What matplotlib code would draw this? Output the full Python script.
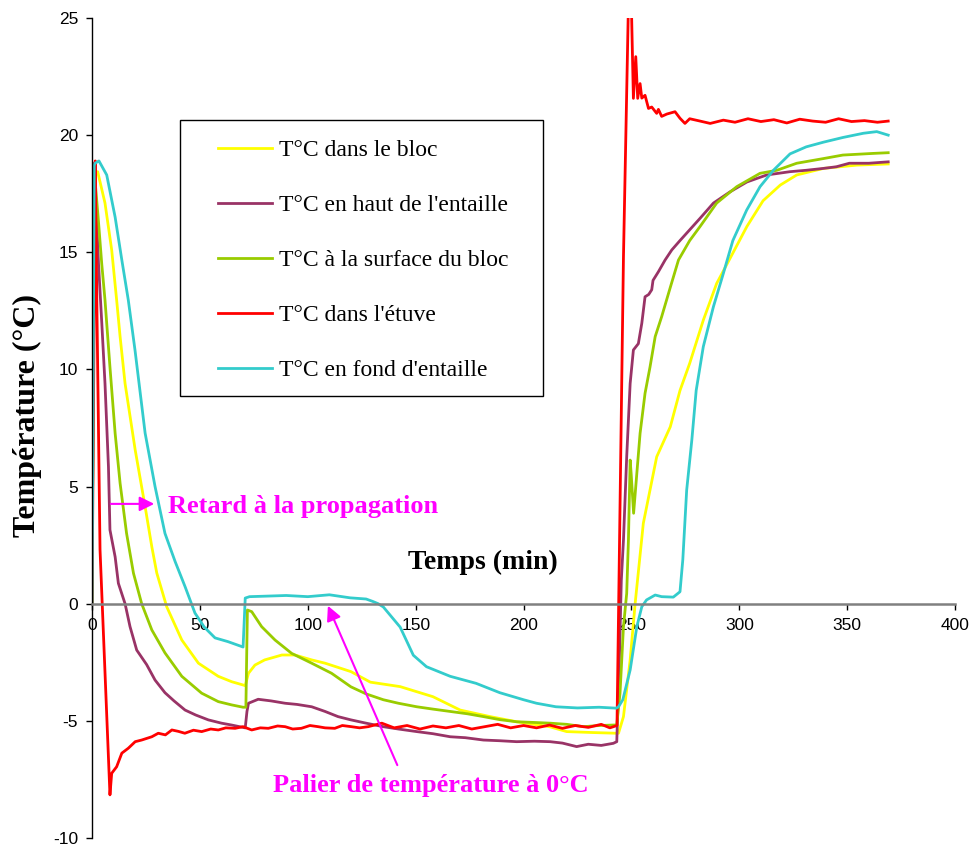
import matplotlib
matplotlib.use("Agg")
import matplotlib.pyplot as plt
from matplotlib.patches import Rectangle

plt.rcParams['axes.unicode_minus'] = False

# T°C dans le bloc
bloc_t = [0, 1, 2.6, 6, 9.1, 11.4, 13, 15.3, 20, 24.6, 27.7, 30, 34.6, 41.6, 49.3, 58.5,
          64.7, 70, 71, 72.5, 75.5, 80, 88, 94, 101.8, 108, 120, 129, 142.8, 158, 170.6,
          184.5, 196.8, 212, 220, 232, 243, 244, 246.3, 249.4, 251.7, 255.5, 261.7, 268,
          272.5, 277, 283.3, 289.5, 295.7, 303.5, 311, 319, 326.6, 339, 354.4, 369]
bloc_T = [0, 18.3, 18.44, 17.1, 15.1, 12.96, 11.4, 9.4, 6.56, 4.14, 2.43, 1.31, -0.13, -1.55,
          -2.54, -3.1, -3.33, -3.47, -3.5, -2.97, -2.62, -2.4, -2.19, -2.19, -2.4, -2.54,
          -2.9, -3.35, -3.54, -3.97, -4.54, -4.82, -5.04, -5.25, -5.46, -5.5, -5.53, -5.53,
          -4.82, -2.4, 0, 3.43, 6.27, 7.55, 9.1, 10.26, 12.1, 13.67, 14.74, 16.1, 17.2,
          17.87, 18.3, 18.58, 18.72, 18.77]

# T°C en haut de l'entaille
haut_t = [0, 1, 3, 4.5, 6, 7.6, 8.3, 10.7, 12.2, 15.3, 17.6, 20.7, 25.3, 29.2, 33.8, 38,
          43.1, 48, 53.9, 60, 64.7, 71, 71.8, 72.5, 77, 83, 89.5, 95, 101.8, 108, 114, 120,
          127, 135, 142, 150.5, 158, 166, 173, 181.4, 189, 196.8, 205, 212.3, 218, 224.6,
          230, 236, 241.6, 243.2, 244.5, 245.3, 246.3, 247.8, 249.4, 250.9, 253.2, 254.8,
          256.3, 258, 259.4, 260, 262.5, 265.6, 268.7, 272.5, 281.8, 288, 295.7, 303.5,
          312.7, 323.5, 331, 339, 345, 351, 360, 369]
haut_T = [0, 18.8, 14.5, 12.0, 9.4, 5.85, 3.15, 2.0, 0.87, 0.0, -0.98, -1.98, -2.6, -3.26,
          -3.8, -4.15, -4.54, -4.75, -4.96, -5.1, -5.18, -5.3, -4.6, -4.25, -4.08, -4.15,
          -4.25, -4.3, -4.4, -4.6, -4.82, -4.96, -5.1, -5.25, -5.35, -5.46, -5.55, -5.68,
          -5.72, -5.82, -5.85, -5.89, -5.87, -5.89, -5.95, -6.1, -6.0, -6.05, -5.96, -5.89,
          -2.0, 1.0, 2.72, 6.27, 9.4, 10.83, 11.1, 11.97, 13.1, 13.2, 13.4, 13.8, 14.17,
          14.67, 15.1, 15.5, 16.45, 17.1, 17.58, 18.0, 18.3, 18.44, 18.5, 18.58, 18.65,
          18.8, 18.8, 18.86]

# T°C à la surface du bloc
surf_t = [0, 1, 2.9, 4.5, 6, 8.3, 10.7, 13, 16, 19.2, 23, 27.7, 33.8, 41.6, 50.8, 58.5,
          64.7, 70, 71.3, 72, 74, 78.6, 84.8, 92.5, 101.8, 111, 120, 127, 135, 142, 150.5,
          158, 166, 174, 181.4, 189, 196.8, 205, 212.3, 220, 227.7, 235, 241.6, 243.2,
          244.7, 246.3, 247.8, 248.6, 249.4, 249.9, 251, 252.5, 254, 256.3, 258.6, 261,
          264, 268, 271.8, 277, 281.8, 289.5, 298.8, 309.6, 317.4, 326.6, 339, 348, 362, 369]
surf_T = [0, 18.5, 16.4, 14.5, 12.96, 10.1, 7.27, 5.14, 3.0, 1.3, 0, -1.12, -2.1, -3.1,
          -3.82, -4.18, -4.32, -4.42, -4.42, -0.27, -0.34, -0.98, -1.55, -2.12, -2.54,
          -2.97, -3.55, -3.85, -4.1, -4.25, -4.4, -4.5, -4.6, -4.7, -4.82, -4.95, -5.04,
          -5.07, -5.1, -5.15, -5.25, -5.2, -5.18, -5.18, -3.82, -0.98, 0.44, 2.72, 6.13,
          5.5, 3.86, 5.57, 7.27, 8.98, 10.1, 11.4, 12.25, 13.5, 14.67, 15.5, 16.1, 17.1,
          17.8, 18.37, 18.5, 18.8, 19.0, 19.15, 19.22, 19.25]

# T°C dans l'étuve
etuve_t = [0, 1.5, 2.2, 3.7, 8.3, 9.1, 11.4, 13.8, 16.8, 20, 23, 27.7, 30.7, 34, 37, 40,
           43, 47, 50.8, 55, 58.5, 62, 66.3, 70, 74, 78, 81.7, 86, 89.5, 93, 97, 101,
           104.8, 108, 112.5, 116, 120.2, 124, 128, 134.3, 140, 146, 152, 158, 164, 170,
           176, 182, 188, 194, 200, 206, 212, 218, 224, 230, 236, 240, 243.3, 246.3, 248.6,
           250, 250.9, 252, 252.9, 254, 254.8, 256.3, 257.9, 259.4, 261.7, 262.5, 264,
           266.4, 270.2, 272.5, 274.8, 277, 281.8, 286.5, 292.6, 298, 304, 310, 316, 322,
           328, 334, 340, 346, 352, 358, 364, 369]
etuve_T = [0, 18.9, 13.0, 2.3, -8.16, -7.24, -6.96, -6.38, -6.17, -5.89, -5.82, -5.68,
           -5.53, -5.6, -5.39, -5.45, -5.53, -5.4, -5.46, -5.35, -5.39, -5.3, -5.32, -5.25,
           -5.39, -5.3, -5.32, -5.22, -5.25, -5.35, -5.32, -5.2, -5.25, -5.3, -5.32, -5.2,
           -5.25, -5.3, -5.25, -5.1, -5.3, -5.2, -5.35, -5.22, -5.3, -5.2, -5.35, -5.25,
           -5.15, -5.3, -5.2, -5.3, -5.18, -5.32, -5.2, -5.28, -5.15, -5.3, -5.2, 14.8,
           25.6, 25.4, 21.57, 23.35, 21.57, 22.2, 21.58, 21.7, 21.14, 21.2, 20.93, 21.1,
           20.8, 20.9, 21.0, 20.72, 20.5, 20.7, 20.6, 20.5, 20.64, 20.55, 20.7, 20.58,
           20.66, 20.52, 20.68, 20.6, 20.55, 20.7, 20.58, 20.62, 20.55, 20.6]

# T°C en fond d'entaille
fond_t = [0, 1, 1.4, 3.2, 6.8, 10.7, 13.8, 16.8, 19.9, 24.6, 29.2, 33.8, 38.5, 43.1, 47.7,
          52, 57, 63, 70, 71, 73, 80, 90, 100, 110, 119.6, 127, 130, 132.6, 135, 142.8,
          148.9, 155, 166, 178, 189, 200, 206, 215, 225, 235, 243, 244, 246, 249.4, 252.5,
          254.8, 257, 261, 264, 269.4, 272.5, 273.8, 275.6, 278, 280, 283.3, 288, 292.6,
          297, 303.4, 309.6, 315.8, 323.5, 331, 339, 348, 357.5, 363.7, 369]
fond_T = [0, 18.7, 18.8, 18.9, 18.3, 16.5, 14.67, 12.96, 10.83, 7.28, 5.0, 3.0, 1.8, 0.73,
          -0.4, -1.0, -1.46, -1.62, -1.85, 0.24, 0.3, 0.32, 0.35, 0.3, 0.38, 0.25, 0.2,
          0.1, 0.0, -0.14, -1.0, -2.2, -2.69, -3.1, -3.4, -3.8, -4.1, -4.25, -4.4, -4.45,
          -4.42, -4.46, -4.4, -4.1, -2.83, -0.98, -0.13, 0.16, 0.37, 0.3, 0.28, 0.51, 1.87,
          4.85, 7.0, 9.1, 10.97, 12.68, 14.1, 15.5, 16.8, 17.8, 18.5, 19.2, 19.5, 19.7,
          19.9, 20.08, 20.15, 20.0]

series = [
    (bloc_t, bloc_T, "#FFFF00", "T°C dans le bloc"),
    (haut_t, haut_T, "#993366", "T°C en haut de l'entaille"),
    (surf_t, surf_T, "#99CC00", "T°C à la surface du bloc"),
    (etuve_t, etuve_T, "#FF0000", "T°C dans l'étuve"),
    (fond_t, fond_T, "#33CCCC", "T°C en fond d'entaille"),
]

serif = "Liberation Serif"
sans = "Liberation Sans"

fig = plt.figure(figsize=(9.72, 8.49), dpi=100)
ax = fig.add_axes([0.0947, 0.0130, 0.8879, 0.9658])

for t, T, c, lab in series:
    ax.plot(t, T, color=c, lw=2.0, label=lab)

ax.set_xlim(0, 400)
ax.set_ylim(-10, 25)
ax.set_xticks(range(0, 401, 50))
ax.set_yticks(range(-10, 26, 5))

ax.spines['top'].set_visible(False)
ax.spines['right'].set_visible(False)
ax.spines['bottom'].set_position(('data', 0))
ax.spines['bottom'].set_color('#808080')
ax.spines['bottom'].set_linewidth(1.8)
ax.spines['left'].set_linewidth(1.0)

ax.tick_params(axis='x', direction='out', length=4, width=1, pad=6, labelsize=12.5)
ax.tick_params(axis='y', direction='out', length=4, width=1, pad=6, labelsize=12.5)
for lbl in ax.get_xticklabels() + ax.get_yticklabels():
    lbl.set_fontfamily(sans)

ax.set_ylabel("Température (°C)", fontfamily=serif, fontweight='bold', fontsize=23)
ax.yaxis.set_label_coords(-0.058, 0.515)
ax.text(181, 1.78, "Temps (min)", fontfamily=serif, fontweight='bold', fontsize=20,
        ha='center', va='center')

# legend: frame drawn separately to get the wide padding of the original
ax.add_patch(Rectangle((0.102, 0.539), 0.4206, 0.3366, transform=ax.transAxes,
                       fill=False, edgecolor='black', lw=1.0, zorder=4))
ax.legend(loc='upper left', bbox_to_anchor=(0.146, 0.852), frameon=False,
          borderpad=0, borderaxespad=0, handlelength=2.3, handletextpad=0.3,
          labelspacing=1.42, prop={'family': serif, 'size': 17})

ax.annotate("", xy=(30.1, 4.26), xytext=(7.4, 4.26),
            arrowprops=dict(arrowstyle='-|>', color='#FF00FF', lw=1.5, mutation_scale=22))
ax.text(35.2, 4.15, "Retard à la propagation", color='#FF00FF', fontfamily=serif,
        fontweight='bold', fontsize=19, va='center')

ax.annotate("", xy=(108.8, 0.02), xytext=(142, -7.0),
            arrowprops=dict(arrowstyle='-|>', color='#FF00FF', lw=1.5, mutation_scale=22))
ax.text(83.9, -7.78, "Palier de température à 0°C", color='#FF00FF', fontfamily=serif,
        fontweight='bold', fontsize=19, va='center')

fig.savefig("out.png", dpi=100)
